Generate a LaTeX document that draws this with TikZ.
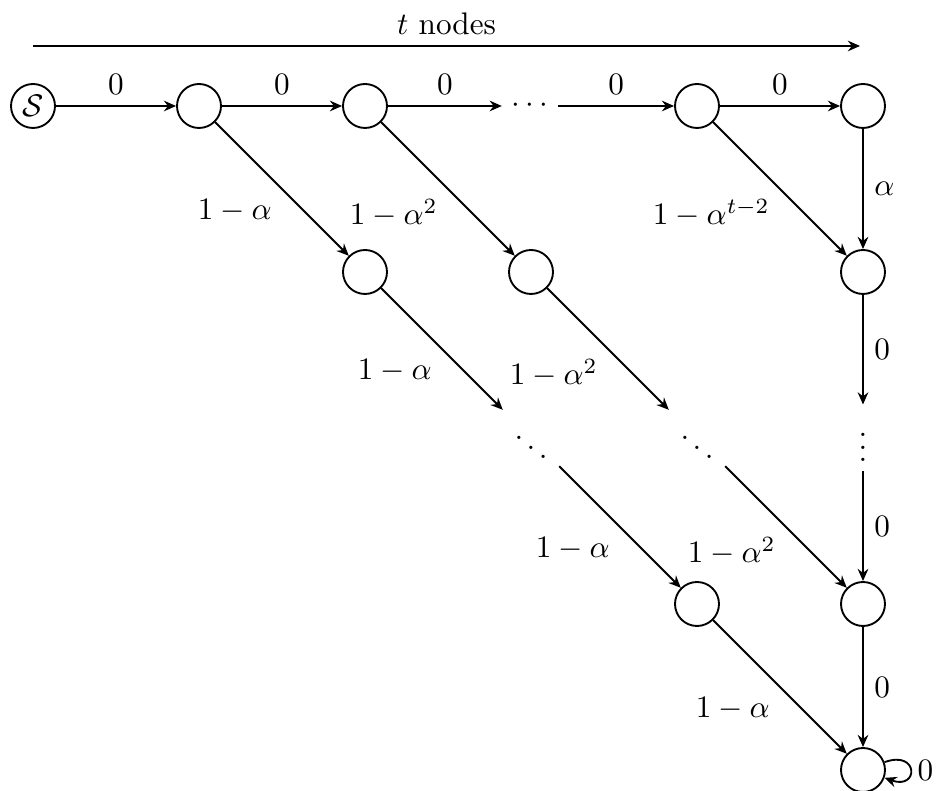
\documentclass[tikz,border=0pt]{standalone}
\usetikzlibrary{arrows.meta}
\begin{document}
\begin{tikzpicture}[x=0.3205pt, y=-0.3205pt,
  state/.style={circle, draw, semithick, minimum size=14.1pt, inner sep=0pt},
  dotsnode/.style={inner sep=3pt},
  arr/.style={-{Stealth[length=3.9pt,width=3.4pt,inset=1.3pt]}, semithick},
  lab/.style={midway, below left, inner sep=3pt},
  labr/.style={midway, right},
  laba/.style={midway, above}]
\useasboundingbox (0,0) rectangle (942,791);
\node[state] (S) at (33,106) {$\mathcal{S}$};
\node[state] (a1) at (199,106) {};
\node[state] (a2) at (365,106) {};
\node[dotsnode] (ad) at (530,106) {$\cdots$};
\node[state] (a4) at (697,106) {};
\node[state] (a5) at (863,106) {};
\node[state] (b1) at (365,272) {};
\node[state] (b2) at (531,272) {};
\node[state] (b5) at (863,272) {};
\node[dotsnode] (dd1) at (531,438) {$\ddots$};
\node[dotsnode] (dd2) at (697,438) {$\ddots$};
\node[dotsnode] (vd) at (863,438) {$\vdots$};
\node[state] (c4) at (697,604) {};
\node[state] (c5) at (863,604) {};
\node[state] (e) at (863,770) {};
\coordinate (tl) at (33,46);
\coordinate (tr) at (860,46);
\draw[arr] (tl) -- node[above] {$t$ nodes} (tr);
\draw[arr] (S) -- node[laba] {$0$} (a1);
\draw[arr] (a1) -- node[laba] {$0$} (a2);
\draw[arr] (a2) -- node[laba] {$0$} (ad);
\draw[arr] (ad) -- node[laba] {$0$} (a4);
\draw[arr] (a4) -- node[laba] {$0$} (a5);
\draw[arr] (a1) -- node[lab] {$1-\alpha$} (b1);
\draw[arr] (a2) -- node[lab] {$1-\alpha^2$} (b2);
\draw[arr] (a4) -- node[lab] {$1-\alpha^{t-2}$} (b5);
\draw[arr] (a5) -- node[labr] {$\alpha$} (b5);
\draw[arr] (b1) -- node[lab] {$1-\alpha$} (dd1);
\draw[arr] (b2) -- node[lab] {$1-\alpha^2$} (dd2);
\draw[arr] (b5) -- node[labr] {$0$} (vd);
\draw[arr] (dd1) -- node[lab] {$1-\alpha$} (c4);
\draw[arr] (dd2) -- node[lab] {$1-\alpha^2$} (c5);
\draw[arr] (vd) -- node[labr] {$0$} (c5);
\draw[arr] (c5) -- node[labr] {$0$} (e);
\draw[arr] (c4) -- node[lab] {$1-\alpha$} (e);
\draw[arr] (e) edge[out=20, in=-20, looseness=6, min distance=6pt] node[right, inner sep=2pt] {$0$} (e);
\end{tikzpicture}
\end{document}
